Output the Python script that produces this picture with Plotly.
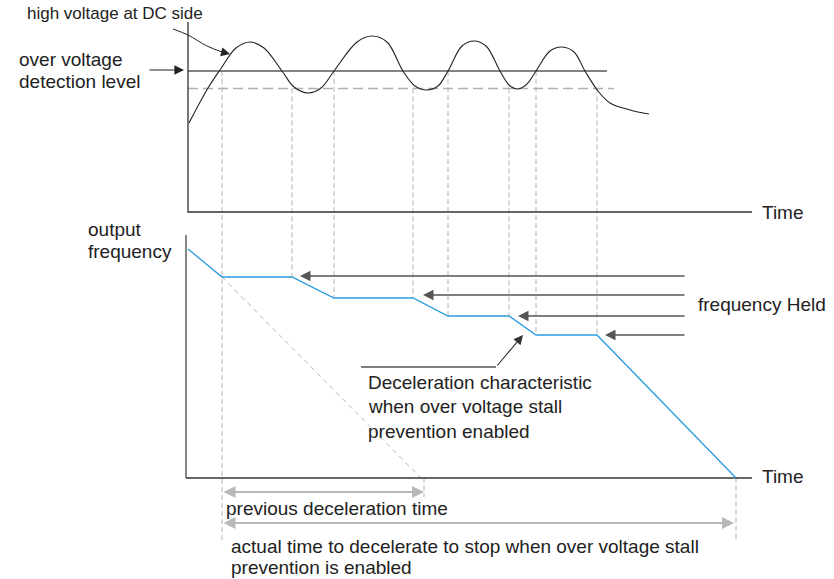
import plotly.graph_objects as go

# ---------------- data (diagram units: x = time, y = level measured downward) -------------
# Upper panel: DC-bus voltage waveform (key points read from the reference)
volt_t = [189, 208, 220, 236, 250, 264, 282, 294, 308, 321, 334, 357, 372, 387, 403, 415, 427,
          438, 448, 462, 474, 486, 500, 509, 517, 526, 536, 550, 562, 574, 585, 598, 610, 630, 649]
volt_v = [123, 88, 70, 48, 42, 48, 71, 87, 93, 88, 71, 42, 36, 42, 71, 86, 90,
          86, 71, 46, 41, 46, 71, 85, 89, 85, 71, 51, 47, 52, 71, 91, 103, 110, 114]

ov_level = 71          # over-voltage detection level
ov_release = 88.5      # release (dashed) level
ov_level_end = 607
ov_release_end = 614

# events where stall prevention switches (vertical guides)
event_t = [222, 292, 334, 413, 448, 509, 536, 597]
event_top = [71, 88.5, 71, 88.5, 71, 88.5, 71, 88.5]
event_bottom = [541, 277, 298, 298, 316, 316, 335, 335]

# Lower panel: output frequency
freq_t = [188, 222, 292, 334, 413, 448, 509, 536, 597, 736]
freq_v = [249, 277, 277, 298, 298, 316, 316, 335, 335, 478]

# previous (unmodified) deceleration ramp
prev_t = [222, 420]
prev_v = [277, 477]

# "frequency held" arrows
held_v = [276, 295, 316, 335]
held_tip = [300, 423, 518, 605]
held_tail = 686

# axes frames
upper_axis_x, upper_axis_top, upper_axis_bottom, upper_axis_right = 188, 22, 212, 752
lower_axis_x, lower_axis_top, lower_axis_bottom, lower_axis_right = 186, 235, 478, 752

# time spans
prev_span = [222, 424]
prev_span_y = 492
actual_span = [222, 734]
actual_span_y = 523
stop_t = 736

# ------------------------------------ figure ---------------------------------------------
fig = go.Figure()

def line(x, y, color, width=1.2, dash=None, shape="linear"):
    fig.add_trace(go.Scatter(x=x, y=y, mode="lines", hoverinfo="skip",
                             line=dict(color=color, width=width, dash=dash, shape=shape),
                             cliponaxis=False, showlegend=False))

# vertical dashed guides
vx, vy = [], []
for t, a, b in zip(event_t, event_top, event_bottom):
    vx += [t, t, None]; vy += [a, b, None]
vx += [stop_t, stop_t, None, prev_span[1], prev_span[1]]
vy += [lower_axis_bottom, 541, None, lower_axis_bottom, 497]
line(vx, vy, "#b4b4b4", 1, "5px,3px")

# levels
line([upper_axis_x, ov_release_end], [ov_release, ov_release], "#b0b0b0", 1.3, "10px,5px")
line([upper_axis_x, ov_level_end], [ov_level, ov_level], "#5a5a5a", 1.4)

# voltage curve
line(volt_t, volt_v, "#222222", 1.1, shape="spline")

# upper axes
line([upper_axis_x, upper_axis_x, upper_axis_right],
     [upper_axis_top, upper_axis_bottom, upper_axis_bottom], "#333333", 1.3)

# previous decel (dashed diagonal)
line(prev_t, prev_v, "#b8b8b8", 1, "5px,4px")

# lower axes
line([lower_axis_x, lower_axis_x], [lower_axis_top, lower_axis_bottom], "#6a6a6a", 1.6)
line([lower_axis_x, lower_axis_right], [lower_axis_bottom, lower_axis_bottom], "#333333", 1.3)

# output frequency
line(freq_t, freq_v, "#2b9be0", 1.3)

# leader lines
line([173, 188, 207, 222], [29, 35, 46, 52], "#222222", 1.0, shape="spline")
line([361, 496], [367, 367], "#555555", 1.3)

ann = []
def arrow(x, y, ax, ay, color, width=1.2, size=1.6, both=False):
    ann.append(dict(x=x, y=y, ax=ax, ay=ay, xref="x", yref="y", axref="x", ayref="y",
                    text="", showarrow=True, arrowhead=2, arrowsize=size, arrowwidth=width,
                    arrowcolor=color, standoff=0, startstandoff=0, startarrowhead=2,
                    startarrowsize=size, arrowside="end+start" if both else "end"))

for v, tip in zip(held_v, held_tip):
    arrow(tip, v, held_tail, v, "#555555", 1.4, 1.5)
arrow(184, 70, 148, 70, "#222222", 1.2, 1.6)
arrow(230, 54, 222, 52, "#222222", 1.0, 1.8)
arrow(523, 335, 496, 367, "#333333", 1.1, 1.7)
arrow(prev_span[1], prev_span_y, prev_span[0], prev_span_y, "#b8b8b8", 2, 1.2, both=True)
arrow(actual_span[1], actual_span_y, actual_span[0], actual_span_y, "#b8b8b8", 2, 1.2, both=True)

FAMILY = "Liberation Sans, Arial, sans-serif"
def text(x, y, s, size=19, anchor="left"):
    ann.append(dict(x=x, y=y, xref="x", yref="y", text=s, showarrow=False,
                    xanchor=anchor, yanchor="middle",
                    font=dict(family=FAMILY, size=size, color="#222222")))

text(25, 13, "high voltage at DC side", size=17)
text(17, 59, "over voltage")
text(17, 81, "detection level")
text(86, 229, "output")
text(86, 251, "frequency")
text(760, 212, "Time")
text(760, 476, "Time")
text(696, 304, "frequency Held")
text(366, 382, "Deceleration characteristic")
text(366, 406, "when over voltage stall")
text(366, 431, "prevention enabled")
text(224, 508, "previous deceleration time")
text(229, 546, "actual time to decelerate to stop when over voltage stall")
text(229, 567, "prevention is enabled")

W, H = 834, 579
fig.update_layout(
    width=W, height=H, margin=dict(l=0, r=0, t=0, b=0),
    paper_bgcolor="white", plot_bgcolor="white",
    xaxis=dict(range=[0, W], visible=False, fixedrange=True),
    yaxis=dict(range=[H, 0], visible=False, fixedrange=True),
    annotations=ann, showlegend=False,
)

# remove the default 8px page margin so the figure fills the window exactly
fig.write_html("out.html", config={"displayModeBar": False},
               post_script="document.body.style.margin='0';document.body.style.overflow='hidden';")
